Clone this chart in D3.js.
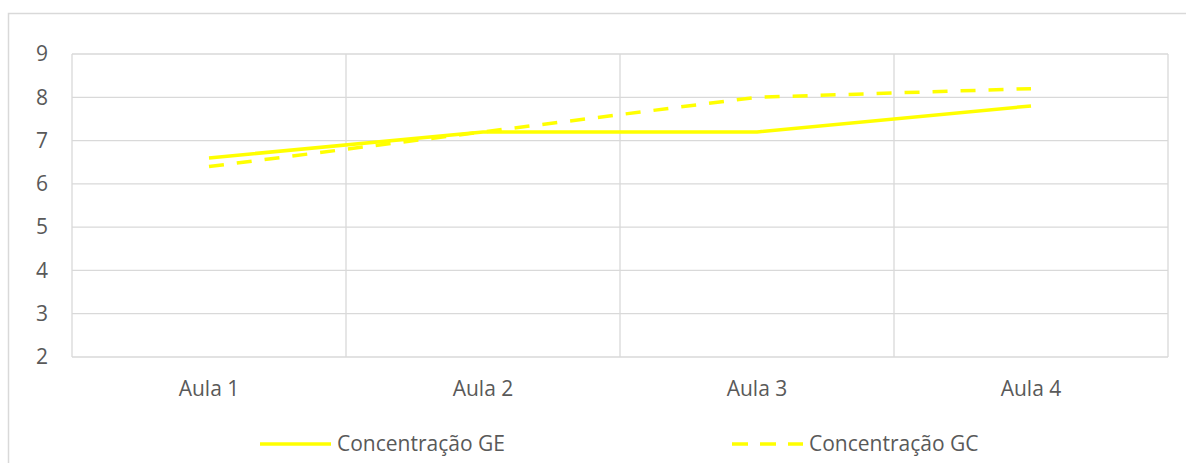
<!DOCTYPE html>
<html>
<head>
<meta charset="utf-8">
<script src="https://cdn.jsdelivr.net/npm/d3@7"></script>
<style>
  body { margin: 0; background: #fff; }
  svg { display: block; }
</style>
</head>
<body>
<svg id="chart" width="1186" height="463"></svg>
<script>
const categories = ['Aula 1', 'Aula 2', 'Aula 3', 'Aula 4'];
const concentracaoGE = [6.6, 7.2, 7.2, 7.8];
const concentracaoGC = [6.4, 7.2, 8.0, 8.2];
const yTicks = [2, 3, 4, 5, 6, 7, 8, 9];
const seriesNames = ['Concentração GE', 'Concentração GC'];

const width = 1186;
const height = 463;
const margin = { top: 54, right: 18, bottom: 106, left: 72 };
const gridColor = '#d9d9d9';
const textColor = '#595959';
const lineColor = '#ffff00';
const font = 'Open Sans, sans-serif';
const fontSize = '21px';

const svg = d3.select('#chart');

// outer chart frame (runs off the right and bottom edge)
svg.append('rect')
  .attr('x', 8.5)
  .attr('y', 13.5)
  .attr('width', 1200)
  .attr('height', 500)
  .attr('fill', 'none')
  .attr('stroke', gridColor)
  .attr('stroke-width', 1.5);

const x = d3.scaleBand()
  .domain(categories)
  .range([margin.left, width - margin.right])
  .padding(0);

const y = d3.scaleLinear()
  .domain([2, 9])
  .range([height - margin.bottom, margin.top]);

// horizontal gridlines
svg.append('g')
  .selectAll('line')
  .data(yTicks)
  .join('line')
  .attr('x1', margin.left)
  .attr('x2', width - margin.right)
  .attr('y1', d => y(d))
  .attr('y2', d => y(d))
  .attr('stroke', gridColor)
  .attr('stroke-width', 1.3);

// vertical gridlines at category boundaries
const bounds = categories.map(c => x(c)).concat([x(categories[categories.length - 1]) + x.bandwidth()]);
svg.append('g')
  .selectAll('line')
  .data(bounds)
  .join('line')
  .attr('x1', d => d)
  .attr('x2', d => d)
  .attr('y1', y(9))
  .attr('y2', y(2))
  .attr('stroke', gridColor)
  .attr('stroke-width', 1.3);

// y tick labels
svg.append('g')
  .selectAll('text')
  .data(yTicks)
  .join('text')
  .attr('x', 48)
  .attr('y', d => y(d))
  .attr('dy', '0.35em')
  .attr('text-anchor', 'end')
  .attr('fill', textColor)
  .style('font-family', font)
  .style('font-size', fontSize)
  .text(d => d);

// x category labels
svg.append('g')
  .selectAll('text')
  .data(categories)
  .join('text')
  .attr('x', d => x(d) + x.bandwidth() / 2)
  .attr('y', 389)
  .attr('dy', '0.35em')
  .attr('text-anchor', 'middle')
  .attr('fill', textColor)
  .style('font-family', font)
  .style('font-size', fontSize)
  .text(d => d);

const line = d3.line()
  .x((d, i) => x(categories[i]) + x.bandwidth() / 2)
  .y(d => y(d));

const series = [
  { name: seriesNames[0], values: concentracaoGE, dash: null },
  { name: seriesNames[1], values: concentracaoGC, dash: '15,13' }
];

svg.append('g')
  .selectAll('path')
  .data(series)
  .join('path')
  .attr('d', d => line(d.values))
  .attr('fill', 'none')
  .attr('stroke', lineColor)
  .attr('stroke-width', 3.5)
  .attr('stroke-linejoin', 'round')
  .attr('stroke-dasharray', d => d.dash);

// legend
const legendX = [260, 732];
const legend = svg.append('g')
  .selectAll('g')
  .data(series)
  .join('g')
  .attr('transform', (d, i) => `translate(${legendX[i]},444)`);

legend.append('line')
  .attr('x1', 0)
  .attr('x2', 71)
  .attr('stroke', lineColor)
  .attr('stroke-width', 3.5)
  .attr('stroke-dasharray', d => d.dash ? '16,12' : null);

legend.append('text')
  .attr('x', 77)
  .attr('dy', '0.35em')
  .attr('fill', textColor)
  .style('font-family', font)
  .style('font-size', fontSize)
  .text(d => d.name);
</script>
</body>
</html>
